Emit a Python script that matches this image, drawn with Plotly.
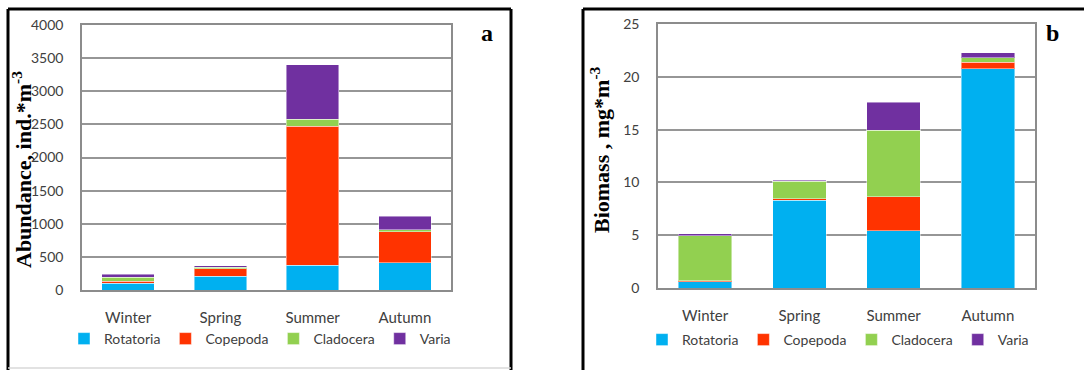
import plotly.graph_objects as go

# Seasonal zooplankton composition
seasons = ["Winter", "Spring", "Summer", "Autumn"]
groups = ["Rotatoria", "Copepoda", "Cladocera", "Varia"]
colors = ["#00B0F0", "#FF3300", "#92D050", "#7030A0"]

# Abundance, ind.*m^-3
abund_rotatoria = [100, 210, 370, 410]
abund_copepoda = [35, 108, 2100, 470]
abund_cladocera = [55, 25, 110, 30]
abund_varia = [45, 20, 820, 200]

# Biomass, mg*m^-3
bio_rotatoria = [0.58, 8.3, 5.4, 20.75]
bio_copepoda = [0.13, 0.15, 3.25, 0.65]
bio_cladocera = [4.26, 1.65, 6.3, 0.4]
bio_varia = [0.16, 0.1, 2.65, 0.5]

abund_ticks = [0, 500, 1000, 1500, 2000, 2500, 3000, 3500, 4000]
bio_ticks = [0, 5, 10, 15, 20, 25]

W, H = 1084, 370
SANS = "Lato, sans-serif"
SERIF = "Liberation Serif, Times New Roman, serif"
TXT = "#404040"


def px(x):
    return x / W


def py(y):
    return 1 - y / H


fig = go.Figure()

abund = [abund_rotatoria, abund_copepoda, abund_cladocera, abund_varia]
bio = [bio_rotatoria, bio_copepoda, bio_cladocera, bio_varia]
edge = dict(color="rgba(255,255,255,0.45)", width=1)

for name, col, vals in zip(groups, colors, abund):
    fig.add_trace(go.Bar(x=seasons, y=vals, name=name, marker_color=col, marker_line=edge,
                         xaxis="x", yaxis="y", legend="legend"))
for name, col, vals in zip(groups, colors, bio):
    fig.add_trace(go.Bar(x=seasons, y=vals, name=name, marker_color=col, marker_line=edge,
                         xaxis="x2", yaxis="y2", legend="legend2"))

xcommon = dict(showgrid=False, showline=True, linecolor="#8c8c8c", linewidth=1.5,
               mirror=True, ticks="", ticklabelstandoff=13, automargin=False,
               tickfont=dict(family=SANS, size=15, color=TXT))
ycommon = dict(showgrid=True, gridcolor="#969696", gridwidth=1.5, showline=True,
               linecolor="#8c8c8c", linewidth=1.5, mirror=True, ticks="",
               zeroline=False, ticklabelstandoff=14, automargin=False,
               tickfont=dict(family=SANS, size=14, color=TXT))

legcommon = dict(orientation="h", font=dict(family=SANS, size=14, color=TXT),
                 bgcolor="rgba(0,0,0,0)", yanchor="middle", xanchor="center",
                 traceorder="normal", itemwidth=30, tracegroupgap=0, borderwidth=0)

fig.update_layout(
    width=W, height=H, margin=dict(l=0, r=0, t=0, b=0, autoexpand=False),
    paper_bgcolor="white", plot_bgcolor="white",
    barmode="stack", bargap=0.43,
    xaxis=dict(domain=[px(82), px(451)], anchor="y", **xcommon),
    yaxis=dict(domain=[py(290), py(25)], anchor="x", range=[0, 4000],
               tickvals=abund_ticks, **ycommon),
    xaxis2=dict(domain=[px(658), px(1035)], anchor="y2", **xcommon),
    yaxis2=dict(domain=[py(288), py(24)], anchor="x2", range=[0, 25],
                tickvals=bio_ticks, **ycommon),
    legend=dict(x=px(260), y=py(339), **legcommon),
    legend2=dict(x=px(838), y=py(340), **legcommon),
)

# Panel frames
frame = dict(color="black", width=3)
fig.add_shape(type="line", xref="paper", yref="paper", x0=px(8), x1=px(8), y0=py(9), y1=py(370), line=frame)
fig.add_shape(type="line", xref="paper", yref="paper", x0=px(8), x1=px(511), y0=py(9), y1=py(9), line=frame)
fig.add_shape(type="line", xref="paper", yref="paper", x0=px(511), x1=px(511), y0=py(9), y1=py(370), line=frame)
fig.add_shape(type="line", xref="paper", yref="paper", x0=px(8), x1=px(511), y0=py(368), y1=py(368),
              line=dict(color="#d9d9d9", width=1.5))
fig.add_shape(type="line", xref="paper", yref="paper", x0=px(583), x1=px(583), y0=py(9), y1=py(370), line=frame)
fig.add_shape(type="line", xref="paper", yref="paper", x0=px(583), x1=1.01, y0=py(9), y1=py(9), line=frame)

# Axis titles and panel letters
ann = dict(xref="paper", yref="paper", showarrow=False, xanchor="center", yanchor="middle")
fig.add_annotation(x=px(22), y=py(170), textangle=-90,
                   text="<b>Abundance, ind.*m<sup>-3</sup></b>",
                   font=dict(family=SERIF, size=22, color="black"), **ann)
fig.add_annotation(x=px(600), y=py(150), textangle=-90,
                   text="<b>Biomass , mg*m<sup>-3</sup></b>",
                   font=dict(family=SERIF, size=22, color="black"), **ann)
fig.add_annotation(x=px(487), y=py(33), text="<b>a</b>",
                   font=dict(family=SERIF, size=24, color="black"), **ann)
fig.add_annotation(x=px(1052), y=py(33), text="<b>b</b>",
                   font=dict(family=SERIF, size=24, color="black"), **ann)

fig.write_html("out.html")
